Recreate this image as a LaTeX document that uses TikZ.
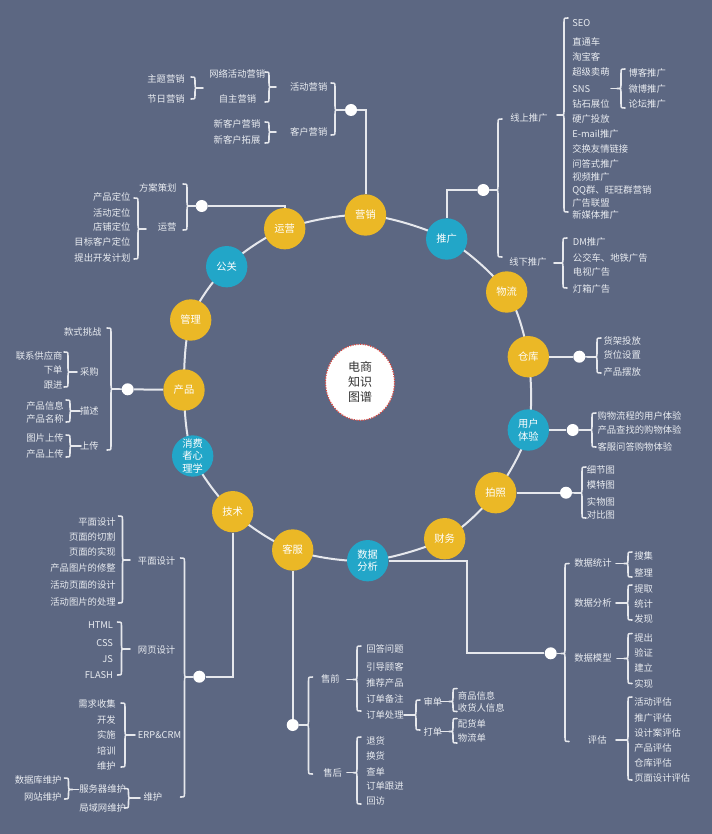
\documentclass[tikz,border=0pt]{standalone}
\usepackage{fontspec}
\setmainfont{Noto Sans CJK SC}
\usetikzlibrary{shapes.geometric}
\definecolor{bgc}{HTML}{5C6782}
\definecolor{yelc}{HTML}{EBB826}
\definecolor{bluc}{HTML}{22A6C8}
\definecolor{linc}{HTML}{E6E8ED}
\definecolor{txtc}{HTML}{E9ECF1}
\definecolor{redc}{HTML}{D9463F}
\newcommand{\mybrace}[6]{%
  \pgfmathsetmacro{\mybs}{sign(#3-#2)}%
  \coordinate (#1) at (#2,#6);
  \draw[bline] ({#3+4*\mybs},#4) .. controls (#3,#4) .. (#3,{#4+4}) -- (#3,{#6-4}) .. controls (#3,#6) .. ({#3-4*\mybs},#6) .. controls (#3,#6) .. (#3,{#6+4}) -- (#3,{#5-4}) .. controls (#3,#5) .. ({#3+4*\mybs},#5);
  \draw[bline] ({#3-4*\mybs},#6) -- (#1);
}
\begin{document}
\begin{tikzpicture}[x=0.75pt,y=-0.75pt,
  bline/.style={draw=linc,line width=1.15pt,line cap=round,line join=round},
  mline/.style={draw=linc,line width=1.5pt},
  rnode/.style={circle,minimum size=31pt,inner sep=0pt,text=white,font=\fontsize{7.7}{9.6}\selectfont,align=center},
  yel/.style={rnode,fill=yelc},
  blu/.style={rnode,fill=bluc},
  dotn/.style={circle,fill=white,minimum size=9pt,inner sep=0pt},
  lf/.style={text=txtc,font=\fontsize{7}{8}\selectfont,inner sep=0pt},
  lw/.style={lf,anchor=west},
  le/.style={lf,anchor=east}]
\fill[bgc] (0,0) rectangle (712,834);
\useasboundingbox (0,0) rectangle (712,834);

% ring
\coordinate (p1) at (365.5,215);
\coordinate (p2) at (446.7,239);
\coordinate (p3) at (506.7,292);
\coordinate (p4) at (528.3,356.7);
\coordinate (p5) at (528.3,430);
\coordinate (p6) at (495.7,492.7);
\coordinate (p7) at (444.7,538.7);
\coordinate (p8) at (367.7,560.7);
\coordinate (p9) at (292.7,550);
\coordinate (p10) at (232.7,511.7);
\coordinate (p11) at (192.7,456);
\coordinate (p12) at (184,390);
\coordinate (p13) at (190.7,320);
\coordinate (p14) at (226.7,266.7);
\coordinate (p15) at (284.7,228.7);
\draw[mline] plot[smooth cycle] coordinates {(p1) (p2) (p3) (p4) (p5) (p6) (p7) (p8) (p9) (p10) (p11) (p12) (p13) (p14) (p15)};

\node[yel] (yx) at (p1) {营销};
\node[blu] (tg) at (p2) {推广};
\node[yel] (wl) at (p3) {物流};
\node[yel] (ck) at (p4) {仓库};
\node[blu] (yh) at (p5) {用户\\体验};
\node[yel] (pz) at (p6) {拍照};
\node[yel] (cw) at (p7) {财务};
\node[blu] (sj) at (p8) {数据\\分析};
\node[yel] (kf) at (p9) {客服};
\node[yel] (js) at (p10) {技术};
\node[blu] (xf) at (p11) {消费\\者心\\理学};
\node[yel] (cp) at (p12) {产品};
\node[yel] (gl) at (p13) {管理};
\node[blu] (gg) at (p14) {公关};
\node[yel] (yy) at (p15) {运营};

\node[ellipse,draw=redc,densely dotted,line width=0.9pt,fill=white,minimum width=51.75pt,minimum height=57pt,inner sep=0pt,align=center,font=\fontsize{9}{11.25}\selectfont,text=black!80] (ctr) at (360,382.3) {电商\\知识\\图谱};

% dots
\node[dotn] (dA) at (351,110) {};
\node[dotn] (dB) at (201.7,206) {};
\node[dotn] (dC) at (483.3,190) {};
\node[dotn] (dD) at (579.3,356.7) {};
\node[dotn] (dE) at (572.7,430) {};
\node[dotn] (dF) at (566,492.7) {};
\node[dotn] (dG) at (127.7,389.3) {};
\node[dotn] (dH) at (199.3,676.7) {};
\node[dotn] (dI) at (292.7,725) {};
\node[dotn] (dJ) at (550.7,653.3) {};
\coordinate (cJ) at (466.7,560.7);

\draw[mline] (yx.north) |- (dA);
\draw[mline] (yy.north) |- (dB);
\draw[mline] (tg.north) |- (dC);
\draw[mline] (ck) -- (dD);
\draw[mline] (yh) -- (dE);
\draw[mline] (pz) -- (dF);
\draw[mline] (cp) -- (dG);
\draw[mline] (js.south) |- (dH);
\draw[mline] (kf) -- (dI);
\draw[mline] (sj.east) -- (cJ) |- (dJ);

% braces
\mybrace{b1}{341}{335}{83}{135}{110} \draw[bline] (b1) -- (dA);
\mybrace{b2}{276}{269}{72}{102}{87}
\mybrace{b3}{203}{195}{77}{99}{88}
\mybrace{b4}{276}{269}{122}{143}{132}
\mybrace{b5}{196}{187}{184}{230}{206} \draw[bline] (b5) -- (dB);
\mybrace{b6}{146}{138}{198}{259}{229}
\mybrace{b7}{492}{498}{119}{257}{190} \draw[bline] (b7) -- (dC);
\mybrace{b8}{557}{564}{18}{212}{115}
\mybrace{b9}{611}{621}{69}{108}{88.5}
\mybrace{b10}{554}{563}{238}{288}{263}
\mybrace{b11}{588}{597}{338}{373}{357} \draw[bline] (b11) -- (dD);
\mybrace{b12}{585}{592}{413}{447}{430} \draw[bline] (b12) -- (dE);
\mybrace{b13}{575}{582}{467}{518}{493} \draw[bline] (b13) -- (dF);
\mybrace{b14}{119}{111}{328}{450}{389} \draw[bline] (b14) -- (dG);
\mybrace{b15}{77}{68}{352}{387}{372}
\mybrace{b16}{80}{70}{400}{422}{411}
\mybrace{b17}{81}{70}{435}{457}{446}
\mybrace{b18}{193}{184.5}{558}{797}{677} \draw[bline] (b18) -- (dH);
\mybrace{b19}{130}{122.5}{516}{603}{560}
\mybrace{b20}{130}{121.5}{622}{675}{649}
\mybrace{b21}{135}{125}{703}{767}{735}
\mybrace{b22}{140}{128.5}{788.5}{808}{798}
\mybrace{b23}{78.5}{68.5}{778}{799}{789.5}
\mybrace{b24}{300}{308.5}{677}{774}{725} \draw[bline] (b24) -- (dI);
\mybrace{b25}{347}{357}{646}{711}{679.5}
\mybrace{b26}{347}{357}{737}{804}{772.7}
\mybrace{b27}{404}{416}{700}{730}{715}
\mybrace{b28}{441}{453}{688.5}{711.5}{701.5}
\mybrace{b29}{441}{453}{718.5}{743}{731.5}
\mybrace{b30}{557}{565}{563.5}{741.5}{653.5} \draw[bline] (b30) -- (dJ);
\mybrace{b31}{616}{628}{552}{577}{563.5}
\mybrace{b32}{616}{628}{585}{620}{603}
\mybrace{b33}{617}{628}{633.5}{683.5}{658.5}
\mybrace{b34}{616}{628}{697}{780}{740}

% 营销 branch
\node[lf] (m1) at (308.7,87.3) {活动营销};
\node[lf] (m2) at (308.7,131.7) {客户营销};
\node[lf] (m3) at (237.3,74.3) {网络活动营销};
\node[lf] (m4) at (237.5,99) {自主营销};
\node[lf] (m5) at (166,79) {主题营销};
\node[lf] (m6) at (166,99.3) {节日营销};
\node[lf] (m7) at (237,124) {新客户营销};
\node[lf] (m8) at (237,140) {新客户拓展};

% 运营 branch
\node[le] (o1) at (176.7,188.3) {方案策划};
\node[le] (o2) at (176.7,227.3) {运营};
\foreach \t/\y [count=\i] in {产品定位/196.7,活动定位/212.7,店铺定位/227.3,目标客户定位/241.7,提出开发计划/257.7}
  \node[le] (oc\i) at (130.7,\y) {\t};

% 推广 branch
\node[lw] (u1) at (510,118.3) {线上推广};
\node[lw] (u2) at (509,261.7) {线下推广};
\foreach \t/\y [count=\i] in {SEO/22.7,直通车/41.7,淘宝客/56.7,超级卖萌/72.3,SNS/89,钻石展位/104.3,硬广投放/119,E-mail推广/134.3,交换友情链接/149.3,问答式推广/164,视频推广/176.7,QQ群、旺旺群营销/190.7,广告联盟/203.3,新媒体推广/215}
  \node[lw] (ua\i) at (572,\y) {\t};
\foreach \t/\y [count=\i] in {博客推广/72.7,微博推广/88.7,论坛推广/104.3}
  \node[lw] (us\i) at (628.3,\y) {\t};
\foreach \t/\y [count=\i] in {DM推广/241.7,公交车、地铁广告/257.7,电视广告/272.3,灯箱广告/289}
  \node[lw] (ub\i) at (572.7,\y) {\t};

% 仓库, 用户体验, 拍照
\foreach \t/\y [count=\i] in {货架投放/340.7,货位设置/355,产品摆放/371.7}
  \node[lw] (k\i) at (603.3,\y) {\t};
\foreach \t/\y [count=\i] in {购物流程的用户体验/416,产品查找的购物体验/430,客服问答购物体验/446.7}
  \node[lw] (h\i) at (597.3,\y) {\t};
\foreach \t/\y [count=\i] in {细节图/470,模特图/485,实物图/501.7,对比图/515}
  \node[lw] (z\i) at (586.7,\y) {\t};

% 产品 branch
\node[le] (c1) at (101.7,332.3) {款式挑战};
\node[le] (c2) at (99,371.7) {采购};
\node[le] (c3) at (99,411) {描述};
\node[le] (c4) at (99,446) {上传};
\foreach \t/\y [count=\i] in {联系供应商/356,下单/370,跟进/385}
  \node[le] (ca\i) at (62.7,\y) {\t};
\foreach \t/\y [count=\i] in {产品信息/405.7,产品名称/419.3}
  \node[le] (cb\i) at (64,\y) {\t};
\foreach \t/\y [count=\i] in {图片上传/437.7,产品上传/454}
  \node[le] (cc\i) at (64,\y) {\t};

% 技术 branch
\node[lw] (j1) at (137.7,560.7) {平面设计};
\node[lw] (j2) at (137.7,650) {网页设计};
\node[lw] (j3) at (137.7,735) {ERP\&CRM};
\node[lw] (j4) at (143.3,796.7) {维护};
\foreach \t/\y [count=\i] in {平面设计/521.7,页面的切割/536.7,页面的实现/551.7,产品图片的修整/567.7,活动页面的设计/585,活动图片的处理/601.7}
  \node[le] (ja\i) at (116,\y) {\t};
\foreach \t/\y [count=\i] in {HTML/625,CSS/642.7,JS/659.3,FLASH/675}
  \node[le] (jb\i) at (113.3,\y) {\t};
\foreach \t/\y [count=\i] in {需求收集/704,开发/720,实施/735,培训/750.7,维护/766}
  \node[le] (jc\i) at (116,\y) {\t};
\node[lw] (jd1) at (79,789.3) {服务器维护};
\node[lw] (jd2) at (79,807.7) {局域网维护};
\node[le] (je1) at (61.7,780) {数据库维护};
\node[le] (je2) at (61.7,797.3) {网站维护};

% 客服 branch
\node[le] (f1) at (340,679.3) {售前};
\node[le] (f2) at (342.3,772.7) {售后};
\foreach \t/\y [count=\i] in {回答问题/649,引导顾客/666.7,推荐产品/682.7,订单备注/699,订单处理/715}
  \node[lw] (fa\i) at (366,\y) {\t};
\node[lw] (fb1) at (423.3,701.7) {审单};
\node[lw] (fb2) at (423.3,731.7) {打单};
\node[lw] (fc1) at (457.7,695.7) {商品信息};
\node[lw] (fc2) at (457.7,707.7) {收货人信息};
\node[lw] (fc3) at (457.7,724.3) {配货单};
\node[lw] (fc4) at (457.7,737.7) {物流单};
\foreach \t/\y [count=\i] in {退货/740.7,换货/756,查单/772.3,订单跟进/785.7,回访/800.7}
  \node[lw] (fd\i) at (366,\y) {\t};

% 数据分析 branch
\node[lw] (s1) at (574,563.3) {数据统计};
\node[lw] (s2) at (574,602.7) {数据分析};
\node[lw] (s3) at (574,658.3) {数据模型};
\node[lw] (s4) at (587.7,740) {评估};
\foreach \t/\y [count=\i] in {搜集/556,整理/573.3}
  \node[lw] (sa\i) at (634,\y) {\t};
\foreach \t/\y [count=\i] in {提取/589.3,统计/604,发现/619.3}
  \node[lw] (sb\i) at (634,\y) {\t};
\foreach \t/\y [count=\i] in {提出/637.7,验证/652.7,建立/668.3,实现/684}
  \node[lw] (sc\i) at (634,\y) {\t};
\foreach \t/\y [count=\i] in {活动评估/701.7,推广评估/717.7,设计案评估/732.7,产品评估/747.7,仓库评估/762.7,页面设计评估/777.7}
  \node[lw] (sd\i) at (634,\y) {\t};
\end{tikzpicture}
\end{document}
